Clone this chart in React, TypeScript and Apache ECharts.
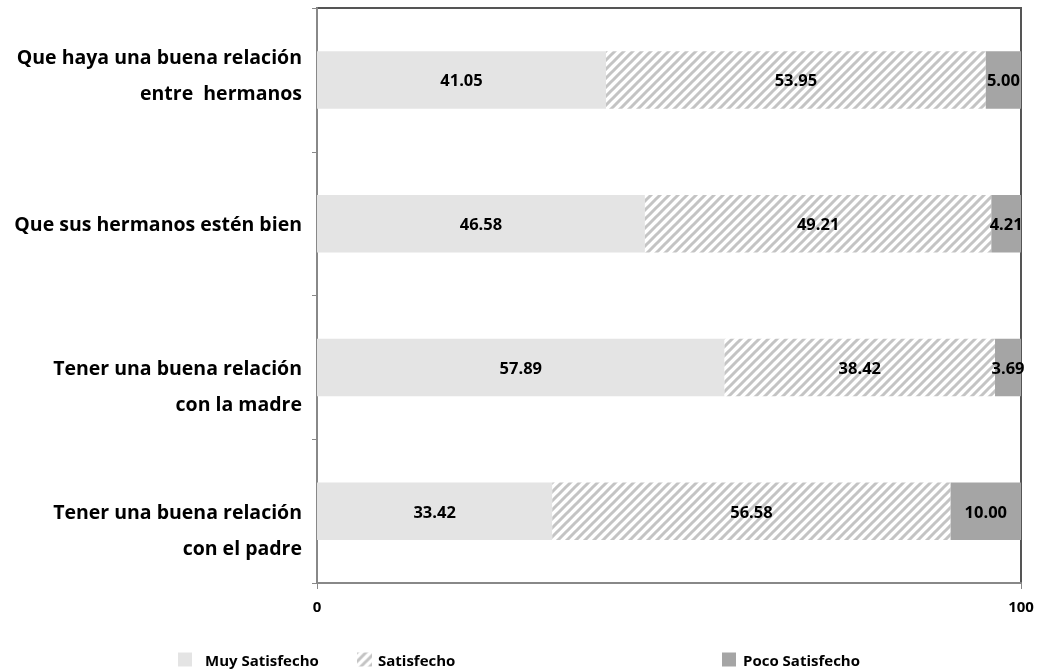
import React, { useEffect, useRef } from "react";
import * as echarts from "echarts";

const categories = [
  "Tener una buena relación\ncon el padre",
  "Tener una buena relación\ncon la madre",
  "Que sus hermanos estén bien",
  "Que haya una buena relación\nentre  hermanos",
];
const muySatisfecho = [33.42, 57.89, 46.58, 41.05];
const satisfecho = [56.58, 38.42, 49.21, 53.95];
const pocoSatisfecho = [10.0, 3.69, 4.21, 5.0];
const xTicks = [0, 100];

function makeHatch() {
  const c = document.createElement("canvas");
  const s = 9;
  c.width = s;
  c.height = s;
  const ctx = c.getContext("2d")!;
  ctx.fillStyle = "#ffffff";
  ctx.fillRect(0, 0, s, s);
  ctx.strokeStyle = "#c4c4c4";
  ctx.lineWidth = 3;
  ctx.beginPath();
  ctx.moveTo(-1, s + 1);
  ctx.lineTo(s + 1, -1);
  ctx.moveTo(-2, 2);
  ctx.lineTo(2, -2);
  ctx.moveTo(s - 2, s + 2);
  ctx.lineTo(s + 2, s - 2);
  ctx.stroke();
  return c;
}

// per-category vertical placement of the label block (rich spacer lines)
const labelPrefix = ["{top|}\n", "{top|}\n", "", ""];
const labelSuffix = ["", "", "", "\n{bot|}"];

export default function App() {
  const ref = useRef<HTMLDivElement>(null);
  useEffect(() => {
    if (!ref.current) return;
    const chart = echarts.init(ref.current, undefined, { renderer: "svg" });
    const hatch = makeHatch();
    const font = "'Open Sans', 'Liberation Sans', sans-serif";
    const labelStyle = {
      show: true,
      position: "inside" as const,
      color: "#000",
      fontWeight: "bold" as const,
      fontSize: 16.5,
      fontFamily: font,
      formatter: (p: any) => Number(p.value).toFixed(2),
    };
    const legendText = (padLeft: number) => ({
      color: "#000",
      fontWeight: "bold" as const,
      fontSize: 15,
      fontFamily: font,
      padding: [0, 0, 0, padLeft],
    });
    chart.setOption({
      animation: false,
      grid: {
        left: 317,
        right: 22,
        top: 8,
        bottom: 89,
        show: true,
        borderColor: "#555",
        borderWidth: 2,
        backgroundColor: "transparent",
      },
      legend: [
        {
          data: ["Muy Satisfecho"],
          left: 173,
          top: 647,
          icon: "rect",
          itemWidth: 14,
          itemHeight: 14,
          textStyle: legendText(8),
        },
        {
          data: ["Satisfecho"],
          left: 352,
          top: 647,
          icon: "rect",
          itemWidth: 15,
          itemHeight: 14,
          textStyle: legendText(1),
        },
        {
          data: ["Poco Satisfecho"],
          left: 717,
          top: 647,
          icon: "rect",
          itemWidth: 14,
          itemHeight: 14,
          textStyle: legendText(2),
        },
      ],
      xAxis: {
        type: "value",
        min: xTicks[0],
        max: xTicks[xTicks.length - 1],
        interval: 100,
        axisLine: { show: true, lineStyle: { color: "#888", width: 2 } },
        axisTick: { show: true, length: 6, lineStyle: { color: "#888", width: 1 } },
        splitLine: { show: false },
        axisLabel: {
          color: "#000",
          fontWeight: "bold",
          fontSize: 15,
          fontFamily: font,
          margin: 15,
        },
      },
      yAxis: {
        type: "category",
        data: categories,
        axisLine: { show: true, lineStyle: { color: "#888", width: 2 } },
        axisTick: { show: true, length: 5, lineStyle: { color: "#888", width: 1 } },
        axisLabel: {
          color: "#000",
          fontWeight: "bold",
          fontSize: 19.5,
          fontFamily: font,
          margin: 15,
          lineHeight: 36,
          align: "right",
          formatter: (v: string, i: number) =>
            labelPrefix[i] + v + labelSuffix[i],
          rich: {
            top: { lineHeight: 36, fontSize: 1 },
            bot: { lineHeight: 10, fontSize: 1 },
          },
        },
      },
      series: [
        {
          name: "Muy Satisfecho",
          type: "bar",
          stack: "total",
          barWidth: "40%",
          data: muySatisfecho,
          itemStyle: { color: "#e4e4e4" },
          label: labelStyle,
        },
        {
          name: "Satisfecho",
          type: "bar",
          stack: "total",
          barWidth: "40%",
          data: satisfecho,
          itemStyle: { color: { image: hatch, repeat: "repeat" } as any },
          label: labelStyle,
        },
        {
          name: "Poco Satisfecho",
          type: "bar",
          stack: "total",
          barWidth: "40%",
          data: pocoSatisfecho,
          itemStyle: { color: "#a5a5a5" },
          label: labelStyle,
        },
      ],
    });
    return () => chart.dispose();
  }, []);
  return (
    <div
      ref={ref}
      style={{ position: "fixed", left: 0, top: 0, width: 1043, height: 672 }}
    />
  );
}
